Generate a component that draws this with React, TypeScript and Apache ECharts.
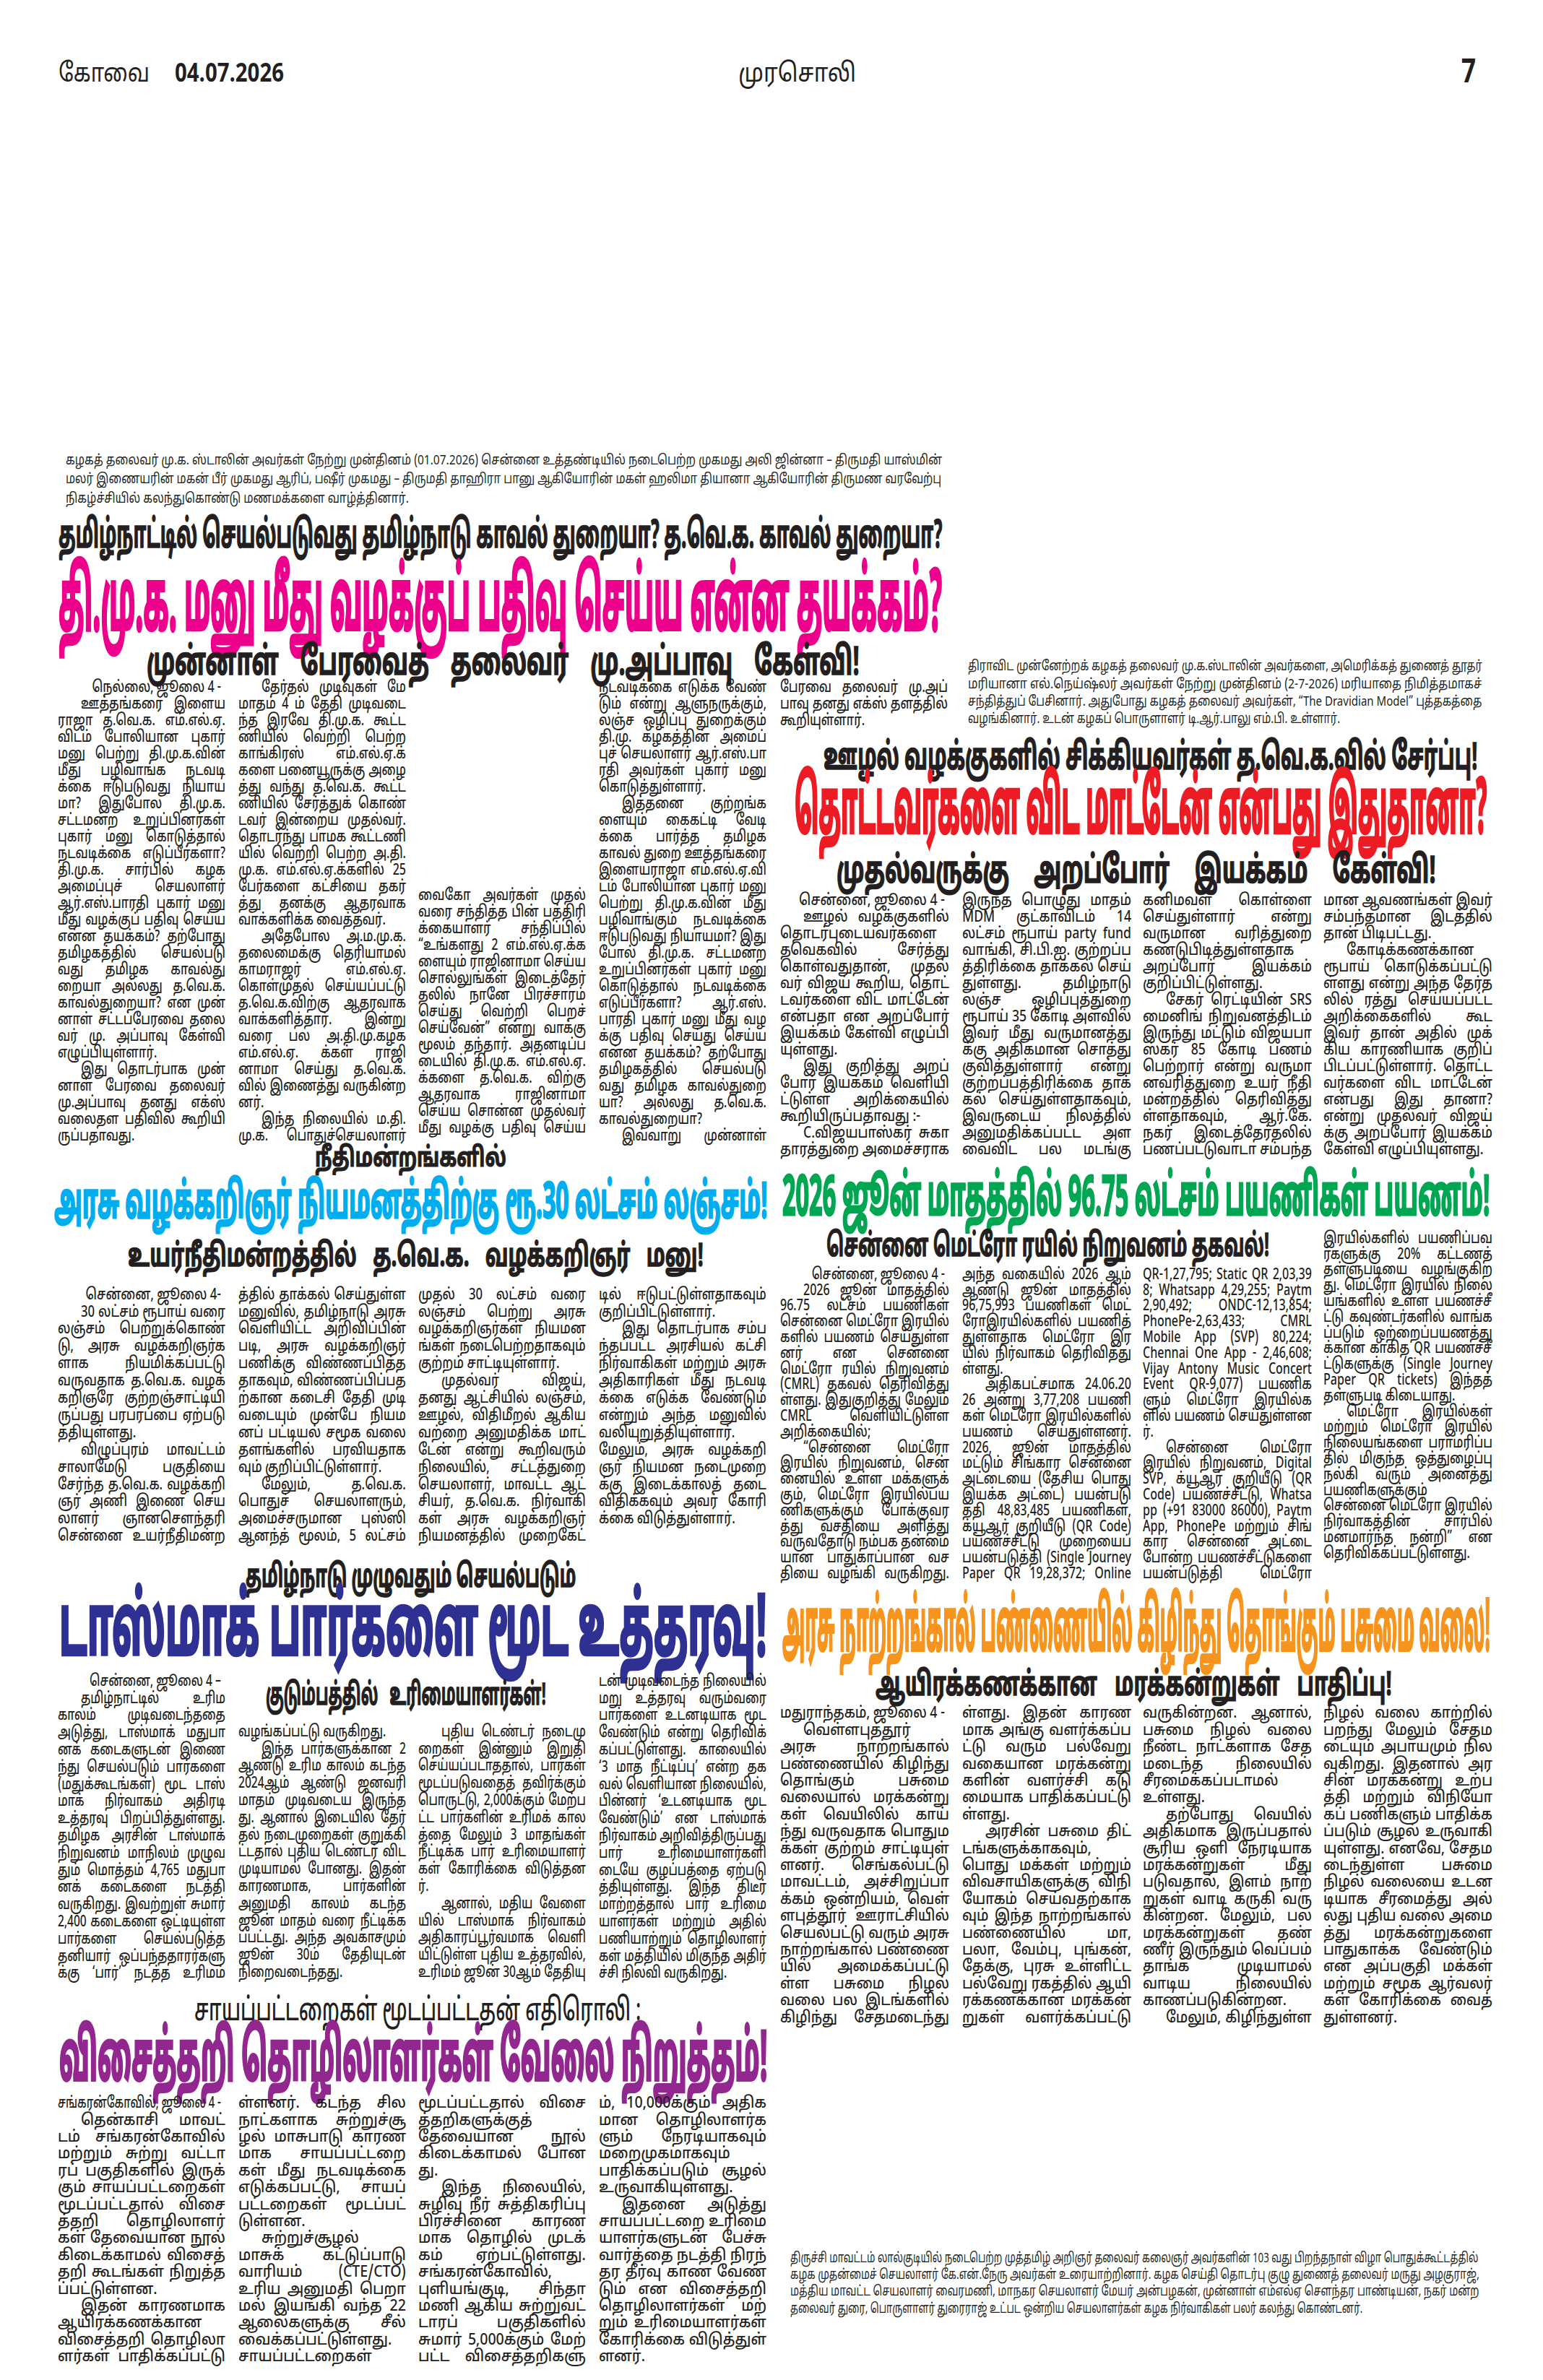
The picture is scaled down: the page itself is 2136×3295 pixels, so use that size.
import React, { useEffect, useRef } from 'react';
import * as echarts from 'echarts';

// ---------------- TEXT DATA ----------------
const HEADER_CITY = 'கோவை';
const HEADER_DATE = '04.07.2026';
const HEADER_PAPER = 'முரசொலி';
const HEADER_PAGE = '7';

const CAPTION_LEFT = [
  'கழகத் தலைவர் மு.க. ஸ்டாலின் அவர்கள் நேற்று முன்தினம் (01.07.2026) சென்னை உத்தண்டியில் நடைபெற்ற முகமது அலி ஜின்னா – திருமதி யாஸ்மின்',
  'மலர் இணையரின் மகன் பீர் முகமது ஆரிப், பஷீர் முகமது – திருமதி தாஹிரா பானு ஆகியோரின் மகள் ஹலிமா தியானா ஆகியோரின் திருமண வரவேற்பு',
  'நிகழ்ச்சியில் கலந்துகொண்டு மணமக்களை வாழ்த்தினார்.',
];
const CAPTION_RIGHT = [
  'திராவிட முன்னேற்றக் கழகத் தலைவர் மு.க.ஸ்டாலின் அவர்களை, அமெரிக்கத் துணைத் தூதர்',
  'மரியானா எல்.நெய்ஷ்லர் அவர்கள் நேற்று முன்தினம் (2-7-2026) மரியாதை நிமித்தமாகச்',
  'சந்தித்துப் பேசினார். அதுபோது கழகத் தலைவர் அவர்கள், “The Dravidian Model” புத்தகத்தை',
  'வழங்கினார். உடன் கழகப் பொருளாளர் டி.ஆர்.பாலு எம்.பி. உள்ளார்.',
];
const CAPTION_BOTTOM = [
  'திருச்சி மாவட்டம் லால்குடியில் நடைபெற்ற முத்தமிழ் அறிஞர் தலைவர் கலைஞர் அவர்களின் 103 வது பிறந்தநாள் விழா பொதுக்கூட்டத்தில்',
  'கழக முதன்மைச் செயலாளர் கே.என்.நேரு அவர்கள் உரையாற்றினார். கழக செய்தி தொடர்பு குழு துணைத் தலைவர் மருது அழகுராஜ்,',
  'மத்திய மாவட்ட செயலாளர் வைரமணி, மாநகர செயலாளர் மேயர் அன்பழகன், முன்னாள் எம்எல்ஏ சௌந்தர பாண்டியன், நகர் மன்ற',
  'தலைவர் துரை, பொருளாளர் துரைராஜ் உட்பட ஒன்றிய செயலாளர்கள் கழக நிர்வாகிகள் பலர் கலந்து கொண்டனர்.',
];

const HEADLINES = {
  a1: 'தமிழ்நாட்டில் செயல்படுவது தமிழ்நாடு காவல் துறையா? த.வெ.க. காவல் துறையா?',
  a2: 'தி.மு.க. மனு மீது வழக்குப் பதிவு செய்ய என்ன தயக்கம்?',
  a3: 'முன்னாள் பேரவைத் தலைவர் மு.அப்பாவு கேள்வி!',
  b1: 'ஊழல் வழக்குகளில் சிக்கியவர்கள் த.வெ.க.வில் சேர்ப்பு!',
  b2: 'தொட்டவர்களை விட மாட்டேன் என்பது இதுதானா?',
  b3: 'முதல்வருக்கு அறப்போர் இயக்கம் கேள்வி!',
  c1: 'நீதிமன்றங்களில்',
  c2: 'அரசு வழக்கறிஞர் நியமனத்திற்கு ரூ.30 லட்சம் லஞ்சம்!',
  c3: 'உயர்நீதிமன்றத்தில் த.வெ.க. வழக்கறிஞர் மனு!',
  d1: '2026 ஜூன் மாதத்தில் 96.75 லட்சம் பயணிகள் பயணம்!',
  d2: 'சென்னை மெட்ரோ ரயில் நிறுவனம் தகவல்!',
  e1: 'தமிழ்நாடு முழுவதும் செயல்படும்',
  e2: 'டாஸ்மாக் பார்களை மூட உத்தரவு!',
  e3: 'குடும்பத்தில் உரிமையாளர்கள்!',
  f1: 'அரசு நாற்றங்கால் பண்ணையில் கிழிந்து தொங்கும் பசுமை வலை!',
  f2: 'ஆயிரக்கணக்கான மரக்கன்றுகள் பாதிப்பு!',
  g1: 'சாயப்பட்டறைகள் மூடப்பட்டதன் எதிரொலி :',
  g2: 'விசைத்தறி தொழிலாளர்கள் வேலை நிறுத்தம்!',
};

const DATELINES = {
  a: 'நெல்லை, ஜூலை 4 -',
  b: 'சென்னை, ஜூலை 4 -',
  c: 'சென்னை, ஜூலை 4-',
  d: 'சென்னை, ஜூலை 4 -',
  e: 'சென்னை, ஜூலை 4 –',
  f: 'மதுராந்தகம், ஜூலை 4 -',
  g: 'சங்கரன்கோவில், ஜூலை 4 -',
};

const PARAS_A = [
  'ஊத்தங்கரை இளைய ராஜா த.வெ.க. எம்.எல்.ஏ. விடம் போலியான புகார் மனு பெற்று தி.மு.க.வின் மீது பழிவாங்க நடவடிக்கை ஈடுபடுவது நியாயமா? இதுபோல தி.மு.க. சட்டமன்ற உறுப்பினர்கள் புகார் மனு கொடுத்தால் நடவடிக்கை எடுப்பீர்களா? தி.மு.க. சார்பில் கழக அமைப்புச் செயலாளர் ஆர்.எஸ்.பாரதி புகார் மனு மீது வழக்குப் பதிவு செய்ய என்ன தயக்கம்? தற்போது தமிழகத்தில் செயல்படுவது தமிழக காவல்துறையா அல்லது த.வெ.க. காவல்துறையா? என முன்னாள் சட்டப்பேரவை தலைவர் மு. அப்பாவு கேள்வி எழுப்பியுள்ளார்.',
  'இது தொடர்பாக முன்னாள் பேரவை தலைவர் மு.அப்பாவு தனது எக்ஸ் வலைதள பதிவில் கூறியிருப்பதாவது.',
  'தேர்தல் முடிவுகள் மே மாதம் 4 ம் தேதி முடிவடைந்த இரவே தி.மு.க. கூட்டணியில் வெற்றி பெற்ற காங்கிரஸ் எம்.எல்.ஏ.க்களை பனையூருக்கு அழைத்து வந்து த.வெ.க. கூட்டணியில் சேர்த்துக் கொண்டவர் இன்றைய முதல்வர். தொடர்ந்து பாமக கூட்டணியில் வெற்றி பெற்ற அ.தி.மு.க. எம்.எல்.ஏ.க்களில் 25 பேர்களை கட்சியை தகர்த்து தனக்கு ஆதரவாக வாக்களிக்க வைத்தவர்.',
  'அதேபோல அ.ம.மு.க. தலைமைக்கு தெரியாமல் காமராஜர் எம்.எல்.ஏ. கொள்முதல் செய்யப்பட்டு த.வெ.க.விற்கு ஆதரவாக வாக்களித்தார். இன்று வரை பல அ.தி.மு.கழக எம்.எல்.ஏ. க்கள் ராஜினாமா செய்து த.வெ.க.வில் இணைத்து வருகின்றனர்.',
  'இந்த நிலையில் ம.தி.மு.க. பொதுச்செயலாளர் வைகோ அவர்கள் முதல்வரை சந்தித்த பின் பத்திரிக்கையாளர் சந்திப்பில் “உங்களது 2 எம்.எல்.ஏ.க்களையும் ராஜினாமா செய்ய சொல்லுங்கள் இடைத்தேர்தலில் நானே பிரச்சாரம் செய்து வெற்றி பெறச் செய்வேன்” என்று வாக்குமூலம் தந்தார். அதனடிப்படையில் தி.மு.க. எம்.எல்.ஏ.க்களை த.வெ.க. விற்கு ஆதரவாக ராஜினாமா செய்ய சொன்ன முதல்வர் மீது வழக்கு பதிவு செய்ய நடவடிக்கை எடுக்க வேண்டும் என்று ஆளுநருக்கும், லஞ்ச ஒழிப்பு துறைக்கும் தி.மு. கழகத்தின் அமைப்புச் செயலாளர் ஆர்.எஸ்.பாரதி அவர்கள் புகார் மனு கொடுத்துள்ளார்.',
  'இத்தனை குற்றங்களையும் கைகட்டி வேடிக்கை பார்த்த தமிழக காவல் துறை ஊத்தங்கரை இளையராஜா எம்.எல்.ஏ.விடம் போலியான புகார் மனு பெற்று தி.மு.க.வின் மீது பழிவாங்கும் நடவடிக்கை ஈடுபடுவது நியாயமா? இது போல் தி.மு.க. சட்டமன்ற உறுப்பினர்கள் புகார் மனு கொடுத்தால் நடவடிக்கை எடுப்பீர்களா? ஆர்.எஸ். பாரதி புகார் மனு மீது வழக்கு பதிவு செய்து செய்ய என்ன தயக்கம்? தற்போது தமிழகத்தில் செயல்படுவது தமிழக காவல்துறையா? அல்லது த.வெ.க. காவல்துறையா?',
  'இவ்வாறு முன்னாள் பேரவை தலைவர் மு.அப்பாவு தனது எக்ஸ் தளத்தில் கூறியுள்ளார்.',
];

const PARAS_B = [
  'ஊழல் வழக்குகளில் தொடர்புடையவர்களை தவெகவில் சேர்த்து கொள்வதுதான், முதல்வர் விஜய் கூறிய, தொட்டவர்களை விட மாட்டேன் என்பதா என அறப்போர் இயக்கம் கேள்வி எழுப்பியுள்ளது.',
  'இது குறித்து அறப்போர் இயக்கம் வெளியிட்டுள்ள அறிக்கையில் கூறியிருப்பதாவது :-',
  'C.விஜயபாஸ்கர் சுகாதாரத்துறை அமைச்சராக இருந்த பொழுது மாதம் MDM குட்காவிடம் 14 லட்சம் ரூபாய் party fund வாங்கி, சி.பி.ஐ. குற்றப்பத்திரிக்கை தாக்கல் செய்துள்ளது. தமிழ்நாடு லஞ்ச ஒழிப்புத்துறை ரூபாய் 35 கோடி அளவில் இவர் மீது வருமானத்துக்கு அதிகமான சொத்து குவித்துள்ளார் என்று குற்றப்பத்திரிக்கை தாக்கல் செய்துள்ளதாகவும், இவருடைய நிலத்தில் அனுமதிக்கப்பட்ட அளவைவிட பல மடங்கு கனிமவள கொள்ளை செய்துள்ளார் என்று வருமான வரித்துறை கண்டுபிடித்துள்ளதாக அறப்போர் இயக்கம் குறிப்பிட்டுள்ளது.',
  'சேகர் ரெட்டியின் SRS மைனிங் நிறுவனத்திடம் இருந்து மட்டும் விஜயபாஸ்கர் 85 கோடி பணம் பெற்றார் என்று வருமானவரித்துறை உயர் நீதிமன்றத்தில் தெரிவித்துள்ளதாகவும், ஆர்.கே. நகர் இடைத்தேர்தலில் பணப்பட்டுவாடா சம்பந்தமான ஆவணங்கள் இவர் சம்பந்தமான இடத்தில் தான் பிடிபட்டது.',
  'கோடிக்கணக்கான ரூபாய் கொடுக்கப்பட்டுள்ளது என்று அந்த தேர்தலில் ரத்து செய்யப்பட்ட அறிக்கைகளில் கூட இவர் தான் அதில் முக்கிய காரணியாக குறிப்பிடப்பட்டுள்ளார். தொட்டவர்களை விட மாட்டேன் என்பது இது தானா? என்று முதல்வர் விஜய்க்கு அறப்போர் இயக்கம் கேள்வி எழுப்பியுள்ளது.',
];

const PARAS_C = [
  '30 லட்சம் ரூபாய் வரை லஞ்சம் பெற்றுக்கொண்டு, அரசு வழக்கறிஞர்களாக நியமிக்கப்பட்டு வருவதாக த.வெ.க. வழக்கறிஞரே குற்றஞ்சாட்டியிருப்பது பரபரப்பை ஏற்படுத்தியுள்ளது.',
  'விழுப்புரம் மாவட்டம் சாலாமேடு பகுதியை சேர்ந்த த.வெ.க. வழக்கறிஞர் அணி இணை செயலாளர் ஞானசௌந்தரி சென்னை உயர்நீதிமன்றத்தில் தாக்கல் செய்துள்ள மனுவில், தமிழ்நாடு அரசு வெளியிட்ட அறிவிப்பின் படி, அரசு வழக்கறிஞர் பணிக்கு விண்ணப்பித்ததாகவும், விண்ணப்பிப்பதற்கான கடைசி தேதி முடிவடையும் முன்பே நியமனப் பட்டியல் சமூக வலைதளங்களில் பரவியதாகவும் குறிப்பிட்டுள்ளார்.',
  'மேலும், த.வெ.க. பொதுச் செயலாளரும், அமைச்சருமான புஸ்ஸி ஆனந்த் மூலம், 5 லட்சம் முதல் 30 லட்சம் வரை லஞ்சம் பெற்று அரசு வழக்கறிஞர்கள் நியமனங்கள் நடைபெற்றதாகவும் குற்றம் சாட்டியுள்ளார்.',
  'முதல்வர் விஜய், தனது ஆட்சியில் லஞ்சம், ஊழல், விதிமீறல் ஆகியவற்றை அனுமதிக்க மாட்டேன் என்று கூறிவரும் நிலையில், சட்டத்துறை செயலாளர், மாவட்ட ஆட்சியர், த.வெ.க. நிர்வாகிகள் அரசு வழக்கறிஞர் நியமனத்தில் முறைகேட்டில் ஈடுபட்டுள்ளதாகவும் குறிப்பிட்டுள்ளார்.',
  'இது தொடர்பாக சம்பந்தப்பட்ட அரசியல் கட்சி நிர்வாகிகள் மற்றும் அரசு அதிகாரிகள் மீது நடவடிக்கை எடுக்க வேண்டும் என்றும் அந்த மனுவில் வலியுறுத்தியுள்ளார். மேலும், அரசு வழக்கறிஞர் நியமன நடைமுறைக்கு இடைக்காலத் தடை விதிக்கவும் அவர் கோரிக்கை விடுத்துள்ளார்.',
];

const PARAS_D = [
  '2026 ஜூன் மாதத்தில் 96.75 லட்சம் பயணிகள் சென்னை மெட்ரோ இரயில்களில் பயணம் செய்துள்ளனர் என சென்னை மெட்ரோ ரயில் நிறுவனம் (CMRL) தகவல் தெரிவித்துள்ளது. இதுகுறித்து மேலும் CMRL வெளியிட்டுள்ள அறிக்கையில்;',
  '“சென்னை மெட்ரோ இரயில் நிறுவனம், சென்னையில் உள்ள மக்களுக்கும், மெட்ரோ இரயில்பயணிகளுக்கும் போக்குவரத்து வசதியை அளித்து வருவதோடு நம்பக தன்மையான பாதுகாப்பான வசதியை வழங்கி வருகிறது. அந்த வகையில் 2026 ஆம் ஆண்டு ஜூன் மாதத்தில் 96,75,993 பயணிகள் மெட்ரோஇரயில்களில் பயணித்துள்ளதாக மெட்ரோ இரயில் நிர்வாகம் தெரிவித்துள்ளது.',
  'அதிகபட்சமாக 24.06.2026 அன்று 3,77,208 பயணிகள் மெட்ரோ இரயில்களில் பயணம் செய்துள்ளனர். 2026, ஜூன் மாதத்தில் மட்டும் சிங்கார சென்னை அட்டையை (தேசிய பொது இயக்க அட்டை) பயன்படுத்தி 48,83,485 பயணிகள், க்யூஆர் குறியீடு (QR Code) பயணச்சீட்டு முறையைப் பயன்படுத்தி (Single Journey Paper QR 19,28,372; Online QR-1,27,795; Static QR 2,03,398; Whatsapp 4,29,255; Paytm 2,90,492; ONDC-12,13,854; PhonePe-2,63,433; CMRL Mobile App (SVP) 80,224; Chennai One App - 2,46,608; Vijay Antony Music Concert Event QR-9,077) பயணிகளும் மெட்ரோ இரயில்களில் பயணம் செய்துள்ளனர்.',
  'சென்னை மெட்ரோ இரயில் நிறுவனம், Digital SVP, க்யூஆர் குறியீடு (QR Code) பயணச்சீட்டு, Whatsapp (+91 83000 86000), Paytm App, PhonePe மற்றும் சிங்கார சென்னை அட்டை போன்ற பயணச்சீட்டுகளை பயன்படுத்தி மெட்ரோ இரயில்களில் பயணிப்பவர்களுக்கு 20% கட்டணத் தள்ளுபடியை வழங்குகிறது. மெட்ரோ இரயில் நிலையங்களில் உள்ள பயணச்சீட்டு கவுண்டர்களில் வாங்கப்படும் ஒற்றைப்பயணத்துக்கான காகித QR பயணச்சீட்டுகளுக்கு (Single Journey Paper QR tickets) இந்தத் தள்ளுபடி கிடையாது.',
  'மெட்ரோ இரயில்கள் மற்றும் மெட்ரோ இரயில் நிலையங்களை பராமரிப்பதில் மிகுந்த ஒத்துழைப்பு நல்கி வரும் அனைத்து பயணிகளுக்கும் சென்னை மெட்ரோ இரயில் நிர்வாகத்தின் சார்பில் மனமார்ந்த நன்றி” என தெரிவிக்கப்பட்டுள்ளது.',
];

const PARAS_E = [
  'தமிழ்நாட்டில் உரிம காலம் முடிவடைந்ததை அடுத்து, டாஸ்மாக் மதுபானக் கடைகளுடன் இணைந்து செயல்படும் பார்களை (மதுக்கூடங்கள்) மூட டாஸ்மாக் நிர்வாகம் அதிரடி உத்தரவு பிறப்பித்துள்ளது. தமிழக அரசின் டாஸ்மாக் நிறுவனம் மாநிலம் முழுவதும் மொத்தம் 4,765 மதுபானக் கடைகளை நடத்தி வருகிறது. இவற்றுள் சுமார் 2,400 கடைகளை ஒட்டியுள்ள பார்களை செயல்படுத்த தனியார் ஒப்பந்ததாரர்களுக்கு ‘பார்’ நடத்த உரிமம் வழங்கப்பட்டு வருகிறது.',
  'இந்த பார்களுக்கான 2 ஆண்டு உரிம காலம் கடந்த 2024ஆம் ஆண்டு ஜனவரி மாதம் முடிவடைய இருந்தது. ஆனால் இடையில் தேர்தல் நடைமுறைகள் குறுக்கிட்டதால் புதிய டெண்டர் விட முடியாமல் போனது. இதன் காரணமாக, பார்களின் அனுமதி காலம் கடந்த ஜூன் மாதம் வரை நீட்டிக்கப்பட்டது. அந்த அவகாசமும் ஜூன் 30ம் தேதியுடன் நிறைவடைந்தது.',
  'புதிய டெண்டர் நடைமுறைகள் இன்னும் இறுதி செய்யப்படாததால், பார்கள் மூடப்படுவதைத் தவிர்க்கும் பொருட்டு, 2,000க்கும் மேற்பட்ட பார்களின் உரிமக் காலத்தை மேலும் 3 மாதங்கள் நீட்டிக்க பார் உரிமையாளர்கள் கோரிக்கை விடுத்தனர்.',
  'ஆனால், மதிய வேளையில் டாஸ்மாக் நிர்வாகம் அதிகாரப்பூர்வமாக வெளியிட்டுள்ள புதிய உத்தரவில், உரிமம் ஜூன் 30ஆம் தேதியுடன் முடிவடைந்த நிலையில் மறு உத்தரவு வரும்வரை பார்களை உடனடியாக மூட வேண்டும் என்று தெரிவிக்கப்பட்டுள்ளது. காலையில் ‘3 மாத நீட்டிப்பு’ என்ற தகவல் வெளியான நிலையில், பின்னர் ‘உடனடியாக மூட வேண்டும்’ என டாஸ்மாக் நிர்வாகம் அறிவித்திருப்பது பார் உரிமையாளர்களிடையே குழப்பத்தை ஏற்படுத்தியுள்ளது. இந்த திடீர் மாற்றத்தால் பார் உரிமையாளர்கள் மற்றும் அதில் பணியாற்றும் தொழிலாளர்கள் மத்தியில் மிகுந்த அதிர்ச்சி நிலவி வருகிறது.',
];

const PARAS_F = [
  'வெள்ளபுத்தூர் அரசு நாற்றங்கால் பண்ணையில் கிழிந்து தொங்கும் பசுமை வலையால் மரக்கன்றுகள் வெயிலில் காய்ந்து வருவதாக பொதுமக்கள் குற்றம் சாட்டியுள்ளனர். செங்கல்பட்டு மாவட்டம், அச்சிறுப்பாக்கம் ஒன்றியம், வெள்ளபுத்தூர் ஊராட்சியில் செயல்பட்டு வரும் அரசு நாற்றங்கால் பண்ணையில் அமைக்கப்பட்டுள்ள பசுமை நிழல் வலை பல இடங்களில் கிழிந்து சேதமடைந்துள்ளது. இதன் காரணமாக அங்கு வளர்க்கப்பட்டு வரும் பல்வேறு வகையான மரக்கன்றுகளின் வளர்ச்சி கடுமையாக பாதிக்கப்பட்டுள்ளது.',
  'அரசின் பசுமை திட்டங்களுக்காகவும், பொது மக்கள் மற்றும் விவசாயிகளுக்கு விநியோகம் செய்வதற்காகவும் இந்த நாற்றங்கால் பண்ணையில் மா, பலா, வேம்பு, புங்கன், தேக்கு, புரசு உள்ளிட்ட பல்வேறு ரகத்தில் ஆயிரக்கணக்கான மரக்கன்றுகள் வளர்க்கப்பட்டு வருகின்றன. ஆனால், பசுமை நிழல் வலை நீண்ட நாட்களாக சேதமடைந்த நிலையில் சீரமைக்கப்படாமல் உள்ளது.',
  'தற்போது வெயில் அதிகமாக இருப்பதால் சூரிய ஒளி நேரடியாக மரக்கன்றுகள் மீது படுவதால், இளம் நாற்றுகள் வாடி கருகி வருகின்றன. மேலும், பல மரக்கன்றுகள் தண்ணீர் இருந்தும் வெப்பம் தாங்க முடியாமல் வாடிய நிலையில் காணப்படுகின்றன.',
  'மேலும், கிழிந்துள்ள நிழல் வலை காற்றில் பறந்து மேலும் சேதமடையும் அபாயமும் நிலவுகிறது. இதனால் அரசின் மரக்கன்று உற்பத்தி மற்றும் விநியோகப் பணிகளும் பாதிக்கப்படும் சூழல் உருவாகியுள்ளது. எனவே, சேதமடைந்துள்ள பசுமை நிழல் வலையை உடனடியாக சீரமைத்து அல்லது புதிய வலை அமைத்து மரக்கன்றுகளை பாதுகாக்க வேண்டும் என அப்பகுதி மக்கள் மற்றும் சமூக ஆர்வலர்கள் கோரிக்கை வைத்துள்ளனர்.',
];

const PARAS_G = [
  'தென்காசி மாவட்டம் சங்கரன்கோவில் மற்றும் சுற்று வட்டாரப் பகுதிகளில் இருக்கும் சாயப்பட்டறைகள் மூடப்பட்டதால் விசைத்தறி தொழிலாளர்கள் தேவையான நூல் கிடைக்காமல் விசைத்தறி கூடங்கள் நிறுத்தப்பட்டுள்ளன.',
  'இதன் காரணமாக ஆயிரக்கணக்கான விசைத்தறி தொழிலாளர்கள் பாதிக்கப்பட்டுள்ளனர். கடந்த சில நாட்களாக சுற்றுச்சூழல் மாசுபாடு காரணமாக சாயப்பட்டறைகள் மீது நடவடிக்கை எடுக்கப்பட்டு, சாயப் பட்டறைகள் மூடப்பட்டுள்ளன.',
  'சுற்றுச்சூழல் மாசுக் கட்டுப்பாடு வாரியம் (CTE/CTO) உரிய அனுமதி பெறாமல் இயங்கி வந்த 22 ஆலைகளுக்கு சீல் வைக்கப்பட்டுள்ளது. சாயப்பட்டறைகள் மூடப்பட்டதால் விசைத்தறிகளுக்குத் தேவையான நூல் கிடைக்காமல் போனது.',
  'இந்த நிலையில், சுழிவு நீர் சுத்திகரிப்பு பிரச்சினை காரணமாக தொழில் முடக்கம் ஏற்பட்டுள்ளது. சங்கரன்கோவில், புளியங்குடி, சிந்தாமணி ஆகிய சுற்றுவட்டாரப் பகுதிகளில் சுமார் 5,000க்கும் மேற்பட்ட விசைத்தறிகளும், 10,000க்கும் அதிகமான தொழிலாளர்களும் நேரடியாகவும் மறைமுகமாகவும் பாதிக்கப்படும் சூழல் உருவாகியுள்ளது.',
  'இதனை அடுத்து சாயப்பட்டறை உரிமையாளர்களுடன் பேச்சுவார்த்தை நடத்தி நிரந்தர தீர்வு காண வேண்டும் என விசைத்தறி தொழிலாளர்கள் மற்றும் உரிமையாளர்கள் கோரிக்கை விடுத்துள்ளனர்.',
];

// ---------------- STYLE / LAYOUT ----------------
const PAGE_W = 2136;
const PAGE_H = 3295;
const FONT = "'Noto Sans Tamil', 'Noto Sans Tamil UI', 'Lohit Tamil', 'Latha', 'Noto Sans', 'DejaVu Sans', sans-serif";
const INK = '#231f20';
const COLORS = {
  pink: '#ec008c',
  red: '#ed1c24',
  blue: '#00aeef',
  green: '#00a651',
  navy: '#2e3192',
  orange: '#f7941d',
  purple: '#92278f',
};
const BODY_WEIGHT = 500;

let _ctx: CanvasRenderingContext2D | null = null;
function tw(t: string, size: number, weight: string | number = 'normal'): number {
  if (!_ctx) _ctx = document.createElement('canvas').getContext('2d');
  _ctx!.font = `${weight} ${size}px ${FONT}`;
  return _ctx!.measureText(t).width;
}

let _seg: any = null;
function graphemes(w: string): string[] {
  try {
    if (!_seg) _seg = new (Intl as any).Segmenter('ta', { granularity: 'grapheme' });
    return Array.from(_seg.segment(w), (s: any) => s.segment as string);
  } catch (e) {
    return Array.from(w);
  }
}

function textEl(t: string, x: number, y: number, size: number, fill: string, weight: string | number, sx: number, stroke = 0) {
  const style: any = {
    text: t,
    x: 0,
    y: 0,
    fontSize: size,
    fontFamily: FONT,
    fontWeight: weight,
    fill,
    align: 'left',
    verticalAlign: 'middle',
  };
  if (stroke > 0) {
    style.stroke = fill;
    style.lineWidth = stroke;
  }
  return { type: 'text', x, y, scaleX: sx, silent: true, style };
}

function fitLine(els: any[], t: string, x1: number, x2: number, y: number, size: number, fill: string, weight: string | number = 'normal', stroke = 0) {
  const w = tw(t, size, weight);
  const s = (x2 - x1) / w;
  els.push(textEl(t, x1, y, size, fill, weight, s, stroke));
  return s;
}

function spreadLine(els: any[], t: string, x1: number, x2: number, y: number, size: number, fill: string, weight: string | number, gap: number, stroke = 0) {
  const words = t.split(' ');
  const ws = words.map((w) => tw(w, size, weight));
  const tot = ws.reduce((a, b) => a + b, 0);
  const c = (x2 - x1 - gap * (words.length - 1)) / tot;
  let x = x1;
  words.forEach((w, i) => {
    els.push(textEl(w, x, y, size, fill, weight, c, stroke));
    x += ws[i] * c + gap;
  });
}

type Col = [number, number, number];
interface Section {
  cols: Col[];
  w: number;
  lh: number;
  size: number;
  dateline: string;
  paras: string[];
}
type Line = { words: string[]; indent: number; last: boolean; right?: boolean };

const INDENT = 32;

function wrapSection(s: Section, cond: number): Line[] {
  const W = (t: string) => tw(t, s.size, BODY_WEIGHT);
  const sp = W(' ');
  const lines: Line[] = [{ words: [s.dateline], indent: 0, last: true, right: true }];
  for (const p of s.paras) {
    const queue = p.split(/\s+/).filter(Boolean);
    let cur: string[] = [];
    let curW = 0;
    let first = true;
    const flush = (last: boolean) => {
      lines.push({ words: cur, indent: first ? INDENT : 0, last });
      first = false;
      cur = [];
      curW = 0;
    };
    while (queue.length) {
      const wd = queue.shift()!;
      const ww = W(wd);
      const avail = (s.w - (first ? INDENT : 0)) / cond;
      const add = cur.length ? sp + ww : ww;
      if (curW + add <= avail) {
        cur.push(wd);
        curW += add;
        continue;
      }
      const remaining = avail - curW - (cur.length ? sp : 0);
      const g = graphemes(wd);
      let split = false;
      if (remaining > avail * 0.2 && g.length >= 4) {
        let best = 0;
        for (let k = 2; k <= g.length - 2; k++) {
          if (W(g.slice(0, k).join('')) <= remaining) best = k;
          else break;
        }
        if (best) {
          cur.push(g.slice(0, best).join(''));
          flush(false);
          queue.unshift(g.slice(best).join(''));
          split = true;
        }
      }
      if (!split) {
        if (cur.length) flush(false);
        cur = [wd];
        curW = ww;
      }
    }
    if (cur.length) flush(true);
  }
  return lines;
}

function flowBody(els: any[], s: Section) {
  const slots: { x: number; y: number }[] = [];
  for (const [x, y0, y1] of s.cols) {
    for (let y = y0; y <= y1 + 0.5; y += s.lh) slots.push({ x, y });
  }
  // pick the widest setting that still fits the columns
  let cond = 0.64;
  let lines = wrapSection(s, cond);
  for (let c = 0.9; c >= 0.64; c -= 0.01) {
    const l = wrapSection(s, c);
    if (l.length <= slots.length) {
      cond = c;
      lines = l;
      break;
    }
  }
  const W = (t: string) => tw(t, s.size, BODY_WEIGHT);
  const sp = W(' ');
  const n = Math.min(lines.length, slots.length);
  for (let i = 0; i < n; i++) {
    const L = lines[i];
    const { x, y } = slots[i];
    const ws = L.words.map((w) => W(w));
    const tot = ws.reduce((a, b) => a + b, 0);
    const availW = s.w - L.indent - (L.right ? 6 : 0);
    let c = cond;
    if (tot * c > availW) c = availW / tot;
    if (L.right) {
      els.push(textEl(L.words[0], x + s.w - 6 - ws[0] * c, y, s.size, INK, BODY_WEIGHT, c));
      continue;
    }
    let gap = sp * c;
    if (!L.last && L.words.length > 1) gap = (availW - tot * c) / (L.words.length - 1);
    let cx = x + L.indent;
    L.words.forEach((w, k) => {
      els.push(textEl(w, cx, y, s.size, INK, BODY_WEIGHT, c));
      cx += ws[k] * c + gap;
    });
  }
}

const LEFT_X = [80, 330, 579, 829];
const RIGHT_X = [1080, 1332, 1582, 1832];

function buildOption() {
  const els: any[] = [];

  // header
  fitLine(els, HEADER_CITY, 81, 207, 104, 36, INK, 'normal');
  fitLine(els, HEADER_DATE, 242, 393, 104, 36, INK, 'bold');
  fitLine(els, HEADER_PAPER, 1022, 1185, 104, 36, INK, 'normal');
  fitLine(els, HEADER_PAGE, 2023, 2043, 102, 46, INK, 'bold');

  // captions
  const capSize = 19;
  let sc = fitLine(els, CAPTION_LEFT[0], 91, 1305, 638, capSize, INK);
  fitLine(els, CAPTION_LEFT[1], 91, 1305, 664, capSize, INK);
  els.push(textEl(CAPTION_LEFT[2], 91, 691, capSize, INK, 'normal', sc));

  sc = fitLine(els, CAPTION_RIGHT[0], 1340, 2052, 923, capSize, INK);
  fitLine(els, CAPTION_RIGHT[1], 1340, 2052, 948, capSize, INK);
  fitLine(els, CAPTION_RIGHT[2], 1340, 2052, 972, capSize, INK);
  els.push(textEl(CAPTION_RIGHT[3], 1340, 996, capSize, INK, 'normal', sc));

  sc = fitLine(els, CAPTION_BOTTOM[0], 1094, 2048, 3127, capSize, INK);
  fitLine(els, CAPTION_BOTTOM[1], 1094, 2048, 3150, capSize, INK);
  fitLine(els, CAPTION_BOTTOM[2], 1094, 2048, 3173, capSize, INK);
  els.push(textEl(CAPTION_BOTTOM[3], 1094, 3197, capSize, INK, 'normal', sc));

  // headlines
  const H = HEADLINES;
  fitLine(els, H.a1, 81, 1305, 745, 54, INK, 'bold', 1.6);
  fitLine(els, H.a2, 81, 1305, 842, 118, COLORS.pink, 'bold', 4.5);
  spreadLine(els, H.a3, 203, 1190, 920, 54, INK, 'bold', 30, 1.6);

  fitLine(els, H.b1, 1140, 2046, 1052, 52, INK, 'bold', 1.6);
  fitLine(els, H.b2, 1100, 2060, 1127, 106, COLORS.red, 'bold', 4.5);
  spreadLine(els, H.b3, 1158, 1988, 1209, 52, INK, 'bold', 34, 1.6);

  fitLine(els, H.c1, 436, 701, 1606, 38, INK, 'bold', 1.2);
  fitLine(els, H.c2, 75, 1062, 1669, 68, COLORS.blue, 'bold', 2.8);
  spreadLine(els, H.c3, 177, 974, 1742, 44, INK, 'bold', 22, 1.4);

  fitLine(els, H.d1, 1083, 2063, 1662, 78, COLORS.green, 'bold', 3);
  fitLine(els, H.d2, 1144, 1757, 1728, 44, INK, 'bold', 1.4);

  fitLine(els, H.e1, 340, 797, 2186, 44, INK, 'bold', 1.4);
  fitLine(els, H.e2, 82, 1062, 2262, 118, COLORS.navy, 'bold', 4.5);
  spreadLine(els, H.e3, 368, 756, 2349, 42, INK, 'bold', 16, 1.4);

  fitLine(els, H.f1, 1083, 2063, 2260, 100, COLORS.orange, 'bold', 4);
  spreadLine(els, H.f2, 1212, 1927, 2336, 46, INK, 'bold', 24, 1.4);

  fitLine(els, H.g1, 269, 887, 2786, 44, INK, 500);
  fitLine(els, H.g2, 82, 1064, 2856, 96, COLORS.purple, 'bold', 4);

  // body text
  const size = 22;
  flowBody(els, {
    size, w: 232, lh: 23, dateline: DATELINES.a, paras: PARAS_A,
    cols: [[LEFT_X[0], 952, 1573], [LEFT_X[1], 952, 1573], [LEFT_X[2], 1240, 1573], [LEFT_X[3], 952, 1573], [RIGHT_X[0], 952, 999]],
  });
  flowBody(els, {
    size, w: 234, lh: 23, dateline: DATELINES.b, paras: PARAS_B,
    cols: RIGHT_X.map((x) => [x, 1247, 1592] as Col),
  });
  flowBody(els, {
    size, w: 232, lh: 23.9, dateline: DATELINES.c, paras: PARAS_C,
    cols: LEFT_X.map((x) => [x, 1793, 2128] as Col),
  });
  flowBody(els, {
    size, w: 234, lh: 21.8, dateline: DATELINES.d, paras: PARAS_D,
    cols: [[RIGHT_X[0], 1765, 2180], [RIGHT_X[1], 1765, 2180], [RIGHT_X[2], 1765, 2180], [RIGHT_X[3], 1715, 2172]],
  });
  flowBody(els, {
    size, w: 232, lh: 23.8, dateline: DATELINES.e, paras: PARAS_E,
    cols: [[LEFT_X[0], 2328, 2733], [LEFT_X[1], 2398, 2733], [LEFT_X[2], 2398, 2733], [LEFT_X[3], 2328, 2733]],
  });
  flowBody(els, {
    size, w: 234, lh: 23.4, dateline: DATELINES.f, paras: PARAS_F,
    cols: RIGHT_X.map((x) => [x, 2373, 2795] as Col),
  });
  flowBody(els, {
    size, w: 232, lh: 23.4, dateline: DATELINES.g, paras: PARAS_G,
    cols: LEFT_X.map((x) => [x, 2913, 3265] as Col),
  });

  return {
    animation: false,
    backgroundColor: '#ffffff',
    graphic: { elements: els },
  };
}

export default function App() {
  const ref = useRef<HTMLDivElement>(null);
  useEffect(() => {
    document.body.style.margin = '0';
    const chart = echarts.init(ref.current!, null, { renderer: 'svg' });
    chart.setOption(buildOption());
    return () => chart.dispose();
  }, []);
  return <div ref={ref} style={{ width: PAGE_W, height: PAGE_H, background: '#fff' }} />;
}
